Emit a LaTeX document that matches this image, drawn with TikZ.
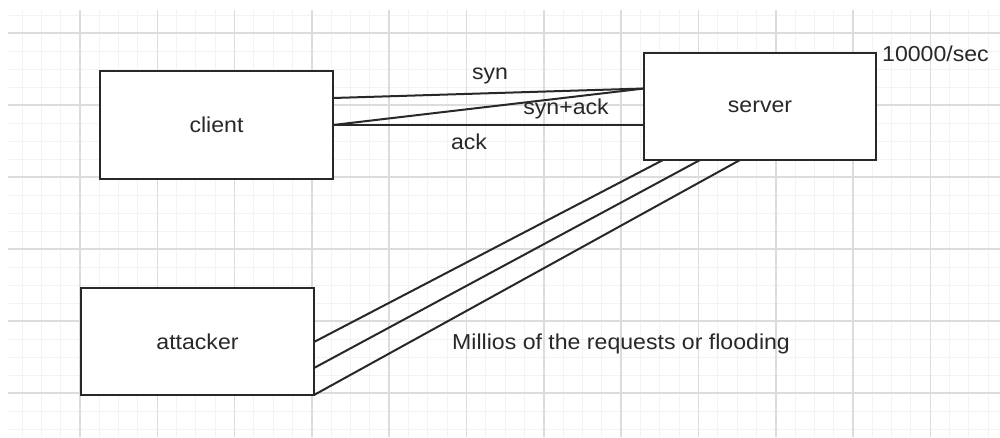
\documentclass[tikz,border=0pt]{standalone}
\usepackage{fontspec}
\setmainfont{Liberation Sans}
\usetikzlibrary{calc}
\definecolor{gridmajor}{RGB}{220,220,220}
\definecolor{gridminor}{RGB}{243,243,243}
\definecolor{ink}{RGB}{40,40,40}
\newcommand{\sq}[1]{\scalebox{1}[0.935]{#1}}
\tikzset{
  box/.style={draw=ink, line width=2pt, fill=white, inner sep=0pt, outer sep=0pt,
              text=ink, font=\fontsize{23.1}{27}\selectfont},
  wire/.style={draw=ink, line width=2pt},
  lbl/.style={text=ink, font=\fontsize{23.1}{27}\selectfont, inner sep=0pt, anchor=base},
}
\begin{document}
\begin{tikzpicture}[x=1pt,y=-1pt]
\useasboundingbox (0,0) rectangle (1000,437);
\fill[white] (0,0) rectangle (1000,437);
% grid
\foreach \j in {-3,...,47} {
  \pgfmathsetmacro{\gx}{80+19.325*\j}
  \ifdim \gx pt>8pt \draw[gridminor, line width=1pt] (\gx,10) -- (\gx,437); \fi
}
\foreach \j in {-1,...,22} {
  \pgfmathsetmacro{\gy}{33+18*\j}
  \draw[gridminor, line width=1pt] (8,\gy) -- (1000,\gy);
}
\foreach \k in {0,...,11} {
  \pgfmathsetmacro{\gx}{80+77.3*\k}
  \draw[gridmajor, line width=1.6pt] (\gx,10) -- (\gx,437);
}
\foreach \k in {0,...,5} {
  \pgfmathsetmacro{\gy}{33+72*\k}
  \draw[gridmajor, line width=1.6pt] (8,\gy) -- (1000,\gy);
}
% boxes
\node[box, minimum width=233pt, minimum height=108pt] (client) at (216.5,125) {\sq{client}};
\node[box, minimum width=232pt, minimum height=107pt] (server) at (760,106.5) {\sq{server}};
\node[box, minimum width=233pt, minimum height=107pt] (attacker) at (197.5,341.5) {\sq{attacker}};
% handshake lines
\draw[wire] ($(client.east)+(0,-27)$) -- ($(server.west)+(0,-18)$);
\draw[wire] (client.east) -- ($(server.west)+(0,-18)$);
\draw[wire] (client.east) -- (client.east -| server.west);
% flooding lines
\draw[wire] ($(attacker.east)+(0,0.5)$) -- ($(server.south)+(-97,0)$);
\draw[wire] ($(attacker.east)+(0,26.5)$) -- ($(server.south)+(-60,0)$);
\draw[wire] (attacker.south east) -- ($(server.south)+(-20,0)$);
% labels
\node[lbl] (syn) at (490,79) {\sq{syn}};
\node[lbl] (synack) at (566,114) {\sq{syn+ack}};
\node[lbl] (ack) at (469,149) {\sq{ack}};
\node[lbl, anchor=base west] (rate) at (882,61) {\sq{10000/sec}};
\node[lbl, anchor=base west] (flood) at (452,349) {\sq{Millios of the requests or flooding}};
\end{tikzpicture}
\end{document}
